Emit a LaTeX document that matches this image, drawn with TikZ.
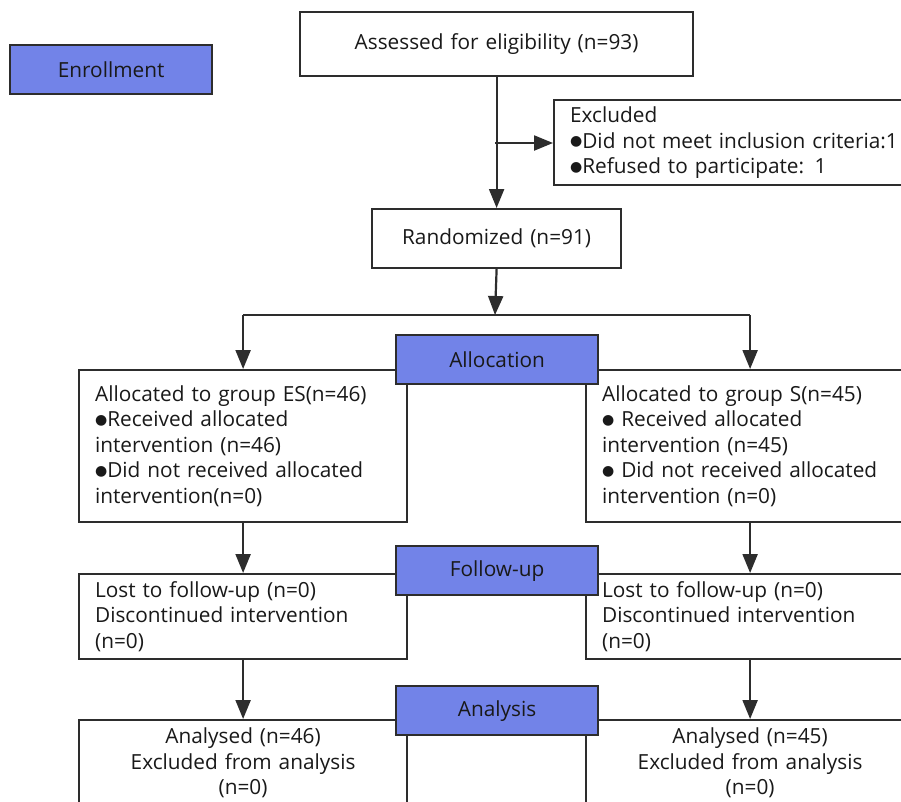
\documentclass[tikz,border=0pt]{standalone}
\usepackage{fontspec}
\setmainfont{Open Sans}
\newfontfamily\djv{DejaVu Sans}
\usetikzlibrary{arrows.meta}
\definecolor{lbl}{RGB}{114,131,232}
\definecolor{ln}{RGB}{45,45,45}
\definecolor{tx}{RGB}{25,25,25}
\newcommand{\bul}{\raisebox{2.5pt}{\djv\fontsize{14}{14}\selectfont ●}}
\begin{document}
\begin{tikzpicture}[x=1pt,y=-1pt,
 every node/.style={font=\fontsize{20.8}{25.5}\selectfont, text=tx},
 box/.style={draw=ln, line width=2.2pt, fill=white, rectangle, inner xsep=16pt, inner ysep=0pt, anchor=north west, align=left},
 cbox/.style={box, align=center},
 lblbox/.style={draw=ln, line width=2.2pt, fill=lbl, rectangle, minimum width=202pt, minimum height=49pt, anchor=north west, inner sep=0pt},
 conn/.style={draw=ln, line width=2.2pt},
 arr/.style={conn, -{Triangle[width=15pt,length=19pt]}}
]
\path[use as bounding box, clip] (0,0) rectangle (901,801);
\fill[white] (0,0) rectangle (901,801);

% main boxes
\node[cbox, text width=361pt, minimum height=64pt] (assess) at (299,11) {Assessed for eligibility (n=93)};
\node[box, text width=328pt, minimum height=85pt] (excl) at (553,99) {Excluded\\\bul Did not meet inclusion criteria:1\\\bul Refused to participate: 1};
\node[cbox, text width=217pt, minimum height=59pt] (rand) at (371,208) {Randomized (n=91)};

\node[box, text width=296pt, minimum height=152pt] (a1) at (78,369) {Allocated to group ES(n=46)\\\bul Received allocated\\intervention (n=46)\\\bul Did not received allocated\\intervention(n=0)};
\node[box, text width=296pt, minimum height=152pt] (a2) at (585,369) {Allocated to group S(n=45)\\\bul\ Received allocated\\intervention (n=45)\\\bul\ Did not received allocated\\intervention (n=0)};

\node[box, text width=296pt, minimum height=85pt] (f1) at (78,573) {Lost to follow-up (n=0)\\Discontinued intervention\\(n=0)};
\node[box, text width=296pt, minimum height=85pt] (f2) at (585,573) {Lost to follow-up (n=0)\\Discontinued intervention\\(n=0)};

\node[cbox, text width=296pt, minimum height=86pt] (n1) at (78,719) {Analysed (n=46)\\Excluded from analysis\\(n=0)};
\node[cbox, text width=296pt, minimum height=86pt] (n2) at (585,719) {Analysed (n=45)\\Excluded from analysis\\(n=0)};

% labels
\node[lblbox] (enr) at (9,44) {Enrollment};
\node[lblbox] (alloc) at (395,334) {Allocation};
\node[lblbox] (fol) at (395,545) {Follow-up};
\node[lblbox] (ana) at (395,685) {Analysis};

% connectors
\draw[arr] (assess.south) -- (rand.north);
\coordinate (br) at (495,143);
\draw[arr] (br) -- (br -| excl.west);
\coordinate (split) at (495,315);
\draw[arr] (rand.south) -- (split);
\draw[conn] (a1.north |- split) -- (a2.north |- split);
\draw[arr] (a1.north |- split) -- (a1.north);
\draw[arr] (a2.north |- split) -- (a2.north);
\draw[arr] (a1.south) -- (f1.north);
\draw[arr] (a2.south) -- (f2.north);
\draw[arr] (f1.south) -- (n1.north);
\draw[arr] (f2.south) -- (n2.north);
\end{tikzpicture}
\end{document}
